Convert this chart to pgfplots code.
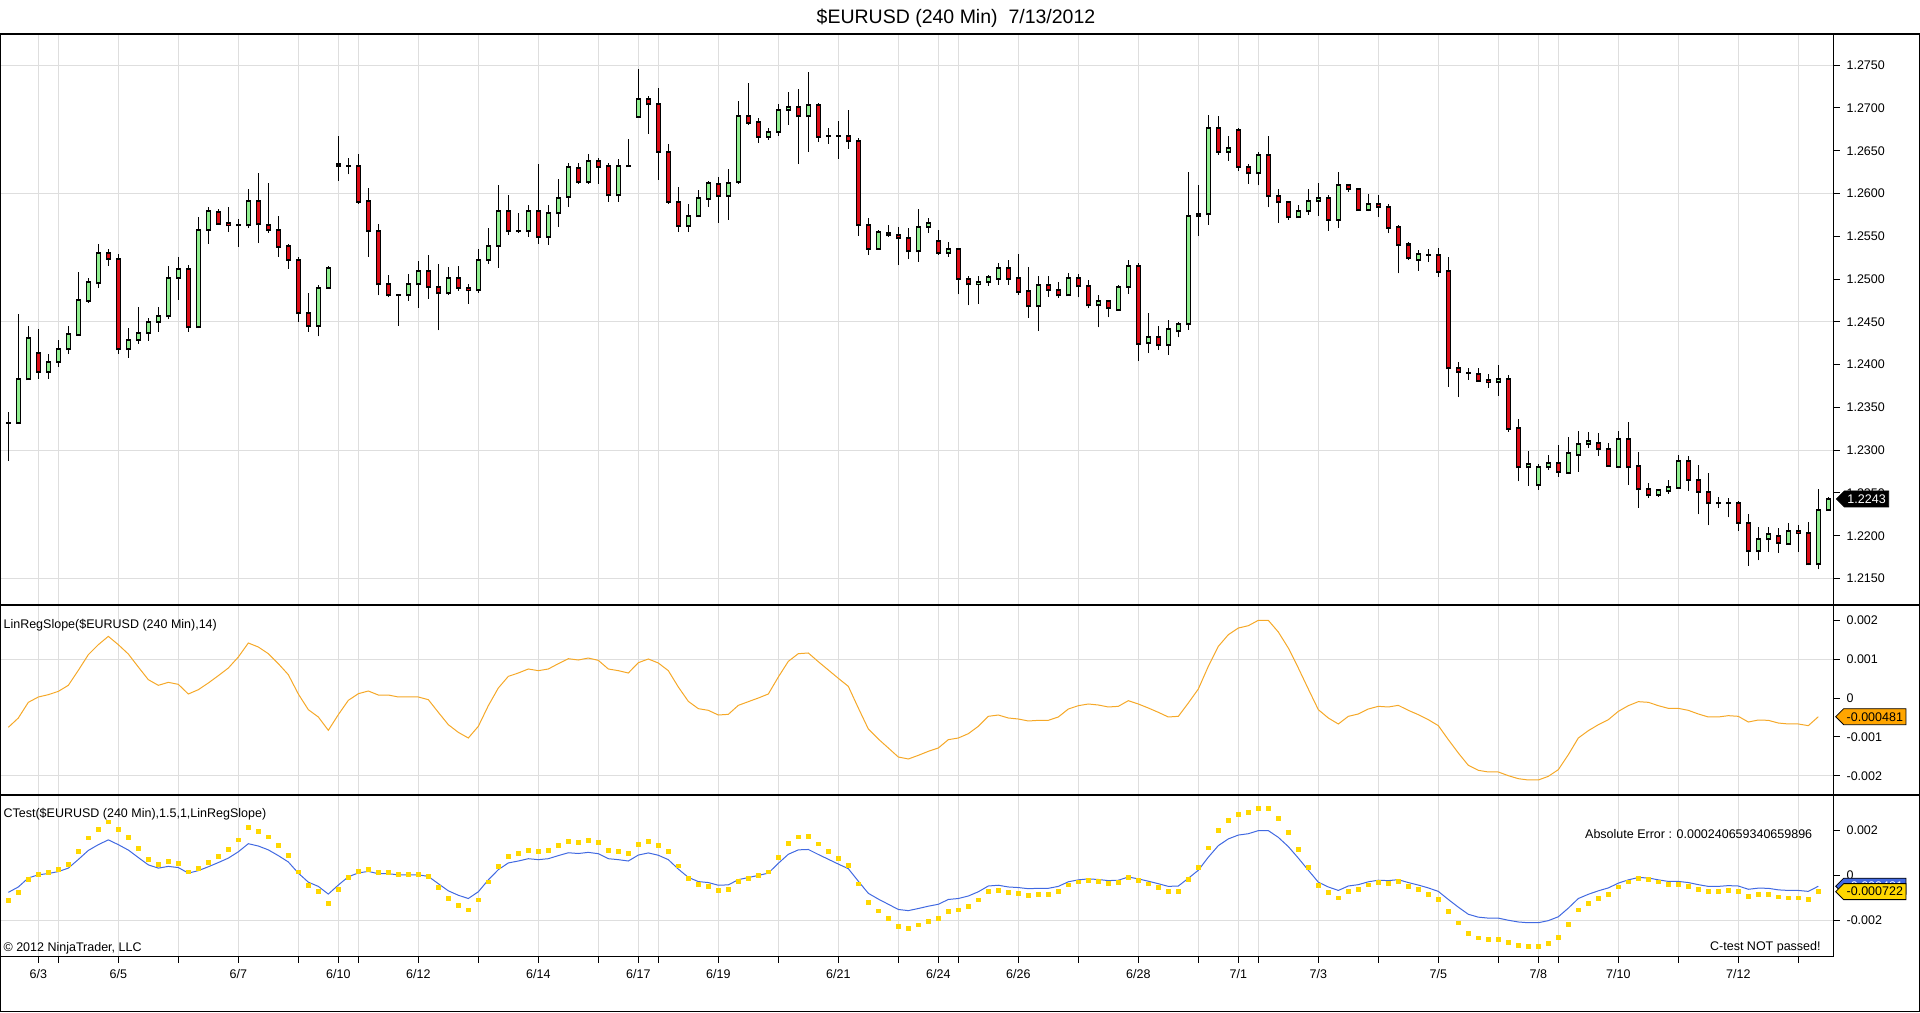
\documentclass[border=0pt]{standalone}
\usepackage{pgfplots}
\pgfplotsset{compat=1.18}
\usepackage{pgfplotstable}
\usepackage{fontspec}
\setmainfont{Liberation Sans}
\usetikzlibrary{shapes.symbols}
\definecolor{cgreen}{RGB}{144,238,144}
\definecolor{cred}{RGB}{220,10,20}
\definecolor{corange}{RGB}{255,165,0}
\definecolor{cline}{RGB}{245,168,40}
\definecolor{cblue}{RGB}{65,105,225}
\definecolor{cyellow}{RGB}{255,215,0}
\definecolor{cgrid}{RGB}{222,222,222}
\newcommand{\sm}{\fontsize{6.25}{7.5}\selectfont}

% green (and doji) candles: i open high low close
\pgfplotstableread{
i o h l c
0 1.23321 1.23450 1.22871 1.23321
1 1.23321 1.24586 1.23313 1.23827
2 1.23827 1.24457 1.23827 1.24307
4 1.23913 1.24123 1.23836 1.24029
5 1.24029 1.24286 1.23977 1.24179
6 1.24179 1.24457 1.24123 1.24354
7 1.24350 1.25079 1.24341 1.24753
8 1.24749 1.25014 1.24723 1.24971
9 1.24950 1.25409 1.24894 1.25301
12 1.24179 1.24427 1.24080 1.24286
13 1.24286 1.24671 1.24243 1.24367
14 1.24367 1.24543 1.24281 1.24504
15 1.24504 1.24671 1.24384 1.24564
16 1.24564 1.25151 1.24530 1.25010
17 1.25010 1.25259 1.24761 1.25113
19 1.24436 1.25721 1.24427 1.25571
20 1.25571 1.25841 1.25413 1.25790
23 1.25627 1.25700 1.25379 1.25627
24 1.25627 1.26051 1.25593 1.25910
31 1.24457 1.24929 1.24329 1.24894
32 1.24894 1.25156 1.24894 1.25130
34 1.26326 1.26416 1.26223 1.26326
39 1.24813 1.24821 1.24457 1.24813
40 1.24813 1.25057 1.24749 1.24937
41 1.24937 1.25207 1.24667 1.25091
44 1.24834 1.25143 1.24813 1.25014
47 1.24869 1.25357 1.24843 1.25220
48 1.25220 1.25593 1.25177 1.25387
49 1.25387 1.26099 1.25134 1.25790
51 1.25559 1.25773 1.25537 1.25559
52 1.25559 1.25867 1.25494 1.25790
54 1.25490 1.25867 1.25400 1.25769
55 1.25769 1.26171 1.25614 1.25944
56 1.25957 1.26356 1.25846 1.26304
58 1.26129 1.26463 1.26116 1.26377
61 1.25979 1.26407 1.25906 1.26317
62 1.26317 1.26639 1.26309 1.26317
63 1.26896 1.27457 1.26887 1.27101
68 1.25619 1.25876 1.25550 1.25734
69 1.25734 1.26043 1.25721 1.25944
70 1.25940 1.26141 1.25846 1.26120
72 1.25970 1.26287 1.25691 1.26120
73 1.26129 1.27080 1.26116 1.26900
76 1.26664 1.26771 1.26630 1.26716
77 1.26716 1.27041 1.26677 1.26973
78 1.26973 1.27187 1.26806 1.27007
80 1.26900 1.27423 1.26484 1.27029
82 1.26677 1.26771 1.26579 1.26677
83 1.26677 1.26853 1.26407 1.26677
87 1.25357 1.25576 1.25344 1.25546
91 1.25323 1.25820 1.25203 1.25606
92 1.25606 1.25709 1.25541 1.25657
94 1.25306 1.25434 1.25263 1.25357
97 1.24937 1.25036 1.24714 1.24963
98 1.24963 1.25049 1.24920 1.25023
99 1.25006 1.25186 1.24933 1.25126
103 1.24680 1.25036 1.24393 1.24929
106 1.24809 1.25070 1.24804 1.25014
109 1.24693 1.24809 1.24436 1.24744
111 1.24641 1.24929 1.24641 1.24907
112 1.24907 1.25220 1.24830 1.25151
114 1.24251 1.24599 1.24136 1.24320
116 1.24234 1.24521 1.24114 1.24414
117 1.24389 1.24500 1.24320 1.24470
118 1.24470 1.26253 1.24410 1.25734
119 1.25734 1.26094 1.25507 1.25756
120 1.25756 1.26913 1.25636 1.26771
122 1.26489 1.26673 1.26381 1.26531
125 1.26236 1.26484 1.26094 1.26446
129 1.25721 1.25867 1.25713 1.25790
130 1.25790 1.26051 1.25751 1.25910
131 1.25910 1.26124 1.25739 1.25944
133 1.25696 1.26253 1.25601 1.26099
136 1.25811 1.25996 1.25790 1.25876
141 1.25220 1.25336 1.25100 1.25293
142 1.25284 1.25357 1.25199 1.25284
146 1.23904 1.23956 1.23823 1.23904
149 1.23793 1.23994 1.23634 1.23831
152 1.22799 1.22991 1.22584 1.22837
153 1.22593 1.22841 1.22537 1.22799
154 1.22799 1.22944 1.22773 1.22846
156 1.22734 1.23150 1.22721 1.22966
157 1.22949 1.23223 1.22751 1.23073
158 1.23073 1.23214 1.23021 1.23107
161 1.22807 1.23223 1.22794 1.23129
165 1.22481 1.22550 1.22456 1.22533
166 1.22529 1.22649 1.22494 1.22567
167 1.22563 1.22949 1.22550 1.22871
171 1.22379 1.22456 1.22327 1.22379
172 1.22379 1.22443 1.22216 1.22379
175 1.21821 1.22100 1.21714 1.21959
176 1.21959 1.22100 1.21809 1.22023
178 1.21907 1.22151 1.21894 1.22057
181 1.21667 1.22550 1.21607 1.22301
182 1.22301 1.22456 1.22293 1.22430
}\up

% red candles: i open high low close
\pgfplotstableread{
i o h l c
3 1.24131 1.24414 1.23836 1.23913
10 1.25301 1.25357 1.25156 1.25233
11 1.25229 1.25293 1.24127 1.24179
18 1.25113 1.25164 1.24384 1.24436
21 1.25781 1.25816 1.25636 1.25649
22 1.25657 1.25841 1.25550 1.25627
25 1.25910 1.26240 1.25421 1.25640
26 1.25627 1.26124 1.25541 1.25571
27 1.25571 1.25739 1.25263 1.25379
28 1.25387 1.25409 1.25121 1.25220
29 1.25220 1.25259 1.24500 1.24599
30 1.24599 1.24839 1.24384 1.24457
33 1.26343 1.26673 1.26150 1.26321
35 1.26321 1.26467 1.25880 1.25906
36 1.25910 1.26064 1.25263 1.25559
37 1.25559 1.25644 1.24809 1.24937
38 1.24937 1.25049 1.24787 1.24813
42 1.25091 1.25280 1.24770 1.24907
43 1.24907 1.25173 1.24401 1.24834
45 1.25014 1.25151 1.24864 1.24899
46 1.24894 1.24937 1.24714 1.24869
50 1.25790 1.25983 1.25520 1.25559
53 1.25790 1.26339 1.25413 1.25490
57 1.26296 1.26356 1.26116 1.26129
59 1.26377 1.26420 1.26116 1.26313
60 1.26317 1.26356 1.25906 1.25979
64 1.27101 1.27136 1.26699 1.27041
65 1.27046 1.27230 1.26163 1.26489
66 1.26489 1.26579 1.25880 1.25906
67 1.25906 1.26073 1.25550 1.25619
71 1.26107 1.26193 1.25661 1.25970
74 1.26900 1.27290 1.26806 1.26827
75 1.26831 1.26879 1.26596 1.26664
79 1.27007 1.27221 1.26343 1.26900
81 1.27029 1.27059 1.26600 1.26664
84 1.26669 1.26977 1.26523 1.26609
85 1.26609 1.26643 1.25507 1.25636
86 1.25636 1.25713 1.25280 1.25357
88 1.25533 1.25631 1.25494 1.25511
89 1.25511 1.25614 1.25164 1.25477
90 1.25477 1.25593 1.25229 1.25323
93 1.25443 1.25571 1.25284 1.25306
95 1.25357 1.25357 1.24821 1.25006
96 1.25006 1.25036 1.24693 1.24937
100 1.25126 1.25220 1.24933 1.25006
101 1.25014 1.25293 1.24813 1.24851
102 1.24856 1.25143 1.24543 1.24680
104 1.24929 1.25036 1.24796 1.24877
105 1.24877 1.24971 1.24779 1.24809
107 1.25014 1.25057 1.24787 1.24916
108 1.24916 1.24984 1.24659 1.24693
110 1.24744 1.24757 1.24551 1.24659
113 1.25151 1.25186 1.24041 1.24243
115 1.24320 1.24457 1.24170 1.24234
121 1.26763 1.26900 1.26454 1.26489
123 1.26741 1.26763 1.26266 1.26313
124 1.26313 1.26339 1.26116 1.26236
126 1.26446 1.26673 1.25837 1.25970
127 1.25970 1.26051 1.25661 1.25897
128 1.25897 1.25914 1.25696 1.25721
132 1.25944 1.25979 1.25567 1.25696
134 1.26099 1.26116 1.26021 1.26051
135 1.26051 1.26051 1.25799 1.25807
137 1.25876 1.25987 1.25730 1.25841
138 1.25841 1.25876 1.25537 1.25601
139 1.25606 1.25627 1.25066 1.25404
140 1.25404 1.25434 1.25220 1.25241
143 1.25280 1.25361 1.25027 1.25087
144 1.25091 1.25259 1.23741 1.23956
145 1.23956 1.24029 1.23621 1.23913
147 1.23887 1.23956 1.23801 1.23814
148 1.23819 1.23887 1.23729 1.23793
150 1.23831 1.23879 1.23214 1.23253
151 1.23257 1.23364 1.22636 1.22799
155 1.22850 1.23056 1.22691 1.22743
159 1.23081 1.23201 1.22936 1.23013
160 1.23009 1.23086 1.22807 1.22820
162 1.23129 1.23330 1.22593 1.22799
163 1.22816 1.22979 1.22327 1.22541
164 1.22541 1.22614 1.22443 1.22481
168 1.22871 1.22927 1.22529 1.22657
169 1.22657 1.22829 1.22250 1.22516
170 1.22516 1.22734 1.22121 1.22379
173 1.22379 1.22409 1.22057 1.22151
174 1.22151 1.22250 1.21650 1.21821
177 1.21993 1.22087 1.21800 1.21916
179 1.22057 1.22130 1.21809 1.22031
180 1.22031 1.22164 1.21654 1.21667
}\down

% LinRegSlope (s) and CTest dots (y)
\pgfplotstableread{
i s y
0 -0.754e-3 -1.131e-3
1 -0.514e-3 -0.771e-3
2 -0.111e-3 -0.167e-3
3 0.026e-3 0.039e-3
4 0.086e-3 0.129e-3
5 0.171e-3 0.257e-3
6 0.326e-3 0.489e-3
7 0.711e-3 1.067e-3
8 1.114e-3 1.671e-3
9 1.371e-3 2.057e-3
10 1.585e-3 2.378e-3
11 1.371e-3 2.057e-3
12 1.131e-3 1.697e-3
13 0.797e-3 1.196e-3
14 0.471e-3 0.707e-3
15 0.326e-3 0.489e-3
16 0.403e-3 0.605e-3
17 0.351e-3 0.527e-3
18 0.103e-3 0.155e-3
19 0.214e-3 0.321e-3
20 0.386e-3 0.579e-3
21 0.574e-3 0.861e-3
22 0.771e-3 1.157e-3
23 1.054e-3 1.581e-3
24 1.414e-3 2.121e-3
25 1.311e-3 1.967e-3
26 1.140e-3 1.710e-3
27 0.883e-3 1.325e-3
28 0.600e-3 0.900e-3
29 0.103e-3 0.155e-3
30 -0.300e-3 -0.450e-3
31 -0.488e-3 -0.732e-3
32 -0.831e-3 -1.247e-3
33 -0.428e-3 -0.642e-3
34 -0.060e-3 -0.090e-3
35 0.111e-3 0.167e-3
36 0.180e-3 0.270e-3
37 0.077e-3 0.116e-3
38 0.077e-3 0.116e-3
39 0.026e-3 0.039e-3
40 0.026e-3 0.039e-3
41 0.026e-3 0.039e-3
42 -0.043e-3 -0.065e-3
43 -0.368e-3 -0.552e-3
44 -0.686e-3 -1.029e-3
45 -0.883e-3 -1.325e-3
46 -1.028e-3 -1.542e-3
47 -0.728e-3 -1.092e-3
48 -0.197e-3 -0.296e-3
49 0.257e-3 0.386e-3
50 0.557e-3 0.836e-3
51 0.643e-3 0.965e-3
52 0.746e-3 1.119e-3
53 0.703e-3 1.055e-3
54 0.746e-3 1.119e-3
55 0.883e-3 1.325e-3
56 1.011e-3 1.517e-3
57 0.977e-3 1.466e-3
58 1.028e-3 1.542e-3
59 0.968e-3 1.452e-3
60 0.746e-3 1.119e-3
61 0.703e-3 1.055e-3
62 0.643e-3 0.965e-3
63 0.908e-3 1.362e-3
64 1.003e-3 1.505e-3
65 0.900e-3 1.350e-3
66 0.703e-3 1.055e-3
67 0.283e-3 0.425e-3
68 -0.086e-3 -0.129e-3
69 -0.274e-3 -0.411e-3
70 -0.317e-3 -0.476e-3
71 -0.437e-3 -0.656e-3
72 -0.420e-3 -0.630e-3
73 -0.189e-3 -0.284e-3
74 -0.094e-3 -0.141e-3
75 0.000e-3 0.000e-3
76 0.103e-3 0.155e-3
77 0.540e-3 0.810e-3
78 0.943e-3 1.415e-3
79 1.140e-3 1.710e-3
80 1.157e-3 1.736e-3
81 0.934e-3 1.401e-3
82 0.720e-3 1.080e-3
83 0.506e-3 0.759e-3
84 0.300e-3 0.450e-3
85 -0.257e-3 -0.386e-3
86 -0.797e-3 -1.196e-3
87 -1.054e-3 -1.581e-3
88 -1.285e-3 -1.928e-3
89 -1.517e-3 -2.276e-3
90 -1.568e-3 -2.352e-3
91 -1.474e-3 -2.211e-3
92 -1.371e-3 -2.057e-3
93 -1.285e-3 -1.928e-3
94 -1.071e-3 -1.607e-3
95 -1.028e-3 -1.542e-3
96 -0.917e-3 -1.376e-3
97 -0.728e-3 -1.092e-3
98 -0.471e-3 -0.707e-3
99 -0.437e-3 -0.656e-3
100 -0.514e-3 -0.771e-3
101 -0.540e-3 -0.810e-3
102 -0.591e-3 -0.887e-3
103 -0.574e-3 -0.861e-3
104 -0.574e-3 -0.861e-3
105 -0.488e-3 -0.732e-3
106 -0.283e-3 -0.425e-3
107 -0.197e-3 -0.296e-3
108 -0.154e-3 -0.231e-3
109 -0.180e-3 -0.270e-3
110 -0.231e-3 -0.347e-3
111 -0.214e-3 -0.321e-3
112 -0.069e-3 -0.104e-3
113 -0.154e-3 -0.231e-3
114 -0.257e-3 -0.386e-3
115 -0.368e-3 -0.552e-3
116 -0.488e-3 -0.732e-3
117 -0.471e-3 -0.707e-3
118 -0.129e-3 -0.194e-3
119 0.231e-3 0.347e-3
120 0.814e-3 1.221e-3
121 1.328e-3 1.992e-3
122 1.628e-3 2.442e-3
123 1.799e-3 2.699e-3
124 1.859e-3 2.789e-3
125 1.997e-3 2.996e-3
126 1.997e-3 2.996e-3
127 1.697e-3 2.546e-3
128 1.285e-3 1.928e-3
129 0.771e-3 1.157e-3
130 0.231e-3 0.347e-3
131 -0.300e-3 -0.450e-3
132 -0.514e-3 -0.771e-3
133 -0.668e-3 -1.002e-3
134 -0.471e-3 -0.707e-3
135 -0.411e-3 -0.617e-3
136 -0.283e-3 -0.425e-3
137 -0.214e-3 -0.321e-3
138 -0.231e-3 -0.347e-3
139 -0.189e-3 -0.284e-3
140 -0.317e-3 -0.476e-3
141 -0.428e-3 -0.642e-3
142 -0.557e-3 -0.836e-3
143 -0.711e-3 -1.067e-3
144 -1.071e-3 -1.607e-3
145 -1.414e-3 -2.121e-3
146 -1.731e-3 -2.597e-3
147 -1.859e-3 -2.789e-3
148 -1.902e-3 -2.853e-3
149 -1.902e-3 -2.853e-3
150 -1.997e-3 -2.996e-3
151 -2.074e-3 -3.111e-3
152 -2.108e-3 -3.162e-3
153 -2.108e-3 -3.162e-3
154 -2.014e-3 -3.021e-3
155 -1.842e-3 -2.763e-3
156 -1.457e-3 -2.186e-3
157 -1.028e-3 -1.542e-3
158 -0.840e-3 -1.260e-3
159 -0.686e-3 -1.029e-3
160 -0.557e-3 -0.836e-3
161 -0.343e-3 -0.515e-3
162 -0.197e-3 -0.296e-3
163 -0.094e-3 -0.141e-3
164 -0.111e-3 -0.167e-3
165 -0.197e-3 -0.296e-3
166 -0.266e-3 -0.399e-3
167 -0.266e-3 -0.399e-3
168 -0.317e-3 -0.476e-3
169 -0.411e-3 -0.617e-3
170 -0.488e-3 -0.732e-3
171 -0.488e-3 -0.732e-3
172 -0.454e-3 -0.681e-3
173 -0.471e-3 -0.707e-3
174 -0.617e-3 -0.926e-3
175 -0.566e-3 -0.849e-3
176 -0.574e-3 -0.861e-3
177 -0.643e-3 -0.965e-3
178 -0.668e-3 -1.002e-3
179 -0.668e-3 -1.002e-3
180 -0.711e-3 -1.067e-3
181 -0.481e-3 -0.722e-3
}\ind

\pgfplotsset{
  panel/.style={
    scale only axis, width=916.75pt, anchor=north west,
    xmin=-0.833, xmax=182.52,
    xtick={3,5,11,17,23,29,33,35,41,47,53,59,63,65,71,77,83,89,93,95,101,107,113,119,123,125,131,137,143,149,153,155,161,167,173,179},
    xmajorgrids, ymajorgrids,
    major grid style={cgrid, line width=0.5pt},
    tick align=outside, ytick pos=right, yticklabel pos=right, xtick pos=bottom,
    major tick length=3pt,
    tick style={black, line width=0.5pt},
    axis line style={black, line width=0.6pt},
    tick label style={font=\sm},
    scaled y ticks=false, scaled x ticks=false,
    /pgf/number format/assume math mode=true,
    extra y tick style={grid=none},
  },
  wick/.style={draw=none, mark=none, forget plot,
    error bars/.cd, y dir=plus, y explicit, error mark=none,
    error bar style={black, line width=0.5pt}},
  bodyline/.style={draw=none, mark=none, forget plot,
    error bars/.cd, y dir=plus, y explicit, error mark=none,
    error bar style={black, line width=2.7pt}},
  bodyfill/.style={draw=none, mark=none, forget plot,
    error bars/.cd, y dir=plus, y explicit, error mark=none,
    error bar style={#1, line width=1.7pt}},
}

\begin{document}
\begin{tikzpicture}
\useasboundingbox (0,0) rectangle (960pt,-506pt);

% main price panel
\begin{axis}[panel, at={(0pt,-17pt)}, height=285.5pt,
  ymin=1.21191, ymax=1.27864,
  xticklabels={}, xtick style={draw=none},
  ytick={1.215,1.23,1.245,1.26,1.275},
  yticklabels={1.2150,1.2300,1.2450,1.2600,1.2750},
  extra y ticks={1.22,1.225,1.235,1.24,1.25,1.255,1.265,1.27},
  extra y tick labels={1.2200,1.2250,1.2350,1.2400,1.2500,1.2550,1.2650,1.2700}]
\addplot[wick] table[x=i, y=l, y error plus expr={\thisrow{h}-\thisrow{l}}] {\up};
\addplot[wick] table[x=i, y=l, y error plus expr={\thisrow{h}-\thisrow{l}}] {\down};
\addplot[bodyline] table[x=i, y expr={\thisrow{o}-0.000117}, y error plus expr={\thisrow{c}-\thisrow{o}+0.000234}] {\up};
\addplot[bodyfill=cgreen] table[x=i, y expr={\thisrow{o}+0.000117}, y error plus expr={max(\thisrow{c}-\thisrow{o}-0.000234,0)}] {\up};
\addplot[bodyline] table[x=i, y expr={\thisrow{c}-0.000117}, y error plus expr={\thisrow{o}-\thisrow{c}+0.000234}] {\down};
\addplot[bodyfill=cred] table[x=i, y expr={\thisrow{c}+0.000117}, y error plus expr={max(\thisrow{o}-\thisrow{c}-0.000234,0)}] {\down};
\coordinate (tagA) at (axis cs:182.52,1.2243);
\end{axis}

% LinRegSlope panel
\begin{axis}[panel, at={(0pt,-302.5pt)}, height=95pt,
  ymin=-0.002494, ymax=0.002391,
  xticklabels={}, xtick style={draw=none},
  ytick={-0.002,0.001}, yticklabels={-0.002,0.001},
  extra y ticks={-0.001,0,0.002}, extra y tick labels={-0.001,0,0.002}]
\addplot[cline, line width=0.5pt, mark=none] table[x=i, y=s] {\ind};
\coordinate (tagB) at (axis cs:182.52,-0.000481);
\end{axis}

% CTest panel
\begin{axis}[panel, at={(0pt,-397.5pt)}, height=80.75pt,
  ymin=-0.003613, ymax=0.003584,
  xticklabels={{6/3},{},{6/5},{},{6/7},{},{6/10},{},{6/12},{},{6/14},{},{6/17},{},{6/19},{},{6/21},{},{6/24},{},{6/26},{},{6/28},{},{7/1},{},{7/3},{},{7/5},{},{7/8},{},{7/10},{},{7/12},{}},
  ytick={-0.002}, yticklabels={-0.002},
  extra y ticks={0,0.002}, extra y tick labels={0,0.002}]
\addplot[cblue, line width=0.5pt, mark=none] table[x=i, y=s] {\ind};
\addplot[color=cyellow, only marks, mark=square*, mark size=0.95pt, mark options={draw=cyellow, fill=cyellow, line width=0pt}] table[x=i, y=y] {\ind};
\coordinate (tagC1) at (axis cs:182.52,-0.000481);
\coordinate (tagC2) at (axis cs:182.52,-0.000722);
\end{axis}

% frame and separators
\draw[black, line width=0.6pt] (0.3pt,-17pt) rectangle (959.6pt,-505.6pt);
\draw[black, line width=0.6pt] (916.75pt,-302.5pt) -- (959.6pt,-302.5pt);
\draw[black, line width=0.6pt] (916.75pt,-397.5pt) -- (959.6pt,-397.5pt);

% title and texts
\node[anchor=base, inner sep=0pt, font=\fontsize{9.75}{11}\selectfont] at (478pt,-11.7pt) {\$EURUSD (240 Min)\ \ 7/13/2012};
\node[anchor=west, inner sep=0pt, font=\sm] at (1.6pt,-312.5pt) {LinRegSlope(\$EURUSD (240 Min),14)};
\node[anchor=west, inner sep=0pt, font=\sm] at (1.6pt,-407.2pt) {CTest(\$EURUSD (240 Min),1.5,1,LinRegSlope)};
\node[anchor=west, inner sep=0pt, font=\sm] at (1.6pt,-474.2pt) {© 2012 NinjaTrader, LLC};
\node[anchor=east, inner sep=0pt, font=\sm] at (906.3pt,-417.2pt) {Absolute Error : 0.000240659340659896};
\node[anchor=east, inner sep=0pt, font=\sm] at (910.5pt,-473.7pt) {C-test NOT passed!};

% value tags
\tikzset{tag/.style={signal, signal to=west, signal from=nowhere, draw=black, line width=0.4pt,
  font=\sm, inner xsep=1.5pt, inner ysep=0.6pt, minimum height=8pt, anchor=west}}
\node[tag, fill=black, text=white] at ([xshift=1.2pt]tagA) {1.2243};
\node[tag, fill=corange, text=black] at ([xshift=0.8pt]tagB) {-0.000481};
\node[tag, fill=cblue, text=white] at ([xshift=0.8pt]tagC1) {-0.000481};
\node[tag, fill=cyellow, text=black] at ([xshift=0.8pt]tagC2) {-0.000722};
\end{tikzpicture}
\end{document}
